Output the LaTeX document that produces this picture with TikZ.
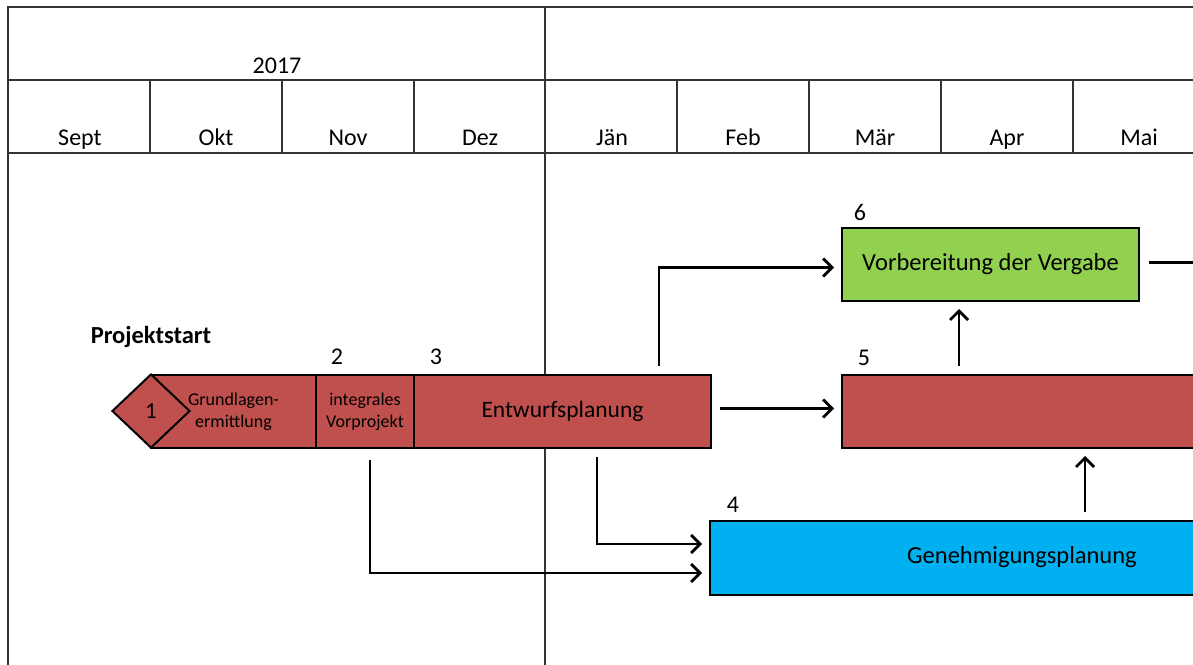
\documentclass[tikz,border=0pt]{standalone}
\usepackage{fontspec}
\setmainfont{Carlito}
\usetikzlibrary{arrows.meta,calc,shapes.geometric}
\definecolor{ored}{HTML}{C0504D}
\definecolor{ogreen}{HTML}{92D050}
\definecolor{oblue}{HTML}{00B0F0}
\definecolor{gridc}{HTML}{333333}
\begin{document}
\begin{tikzpicture}[x=1pt,y=-1pt,
  gridline/.style={draw=gridc,line width=2pt},
  lbl/.style={font=\fontsize{24}{28}\selectfont,inner sep=0pt},
  small/.style={font=\fontsize{18}{22}\selectfont,inner sep=0pt,align=center},
  box/.style={draw=black,line width=2pt,inner sep=0pt,anchor=north west,
    minimum height=73pt,font=\fontsize{24.5}{28}\selectfont},
  arr/.style={draw=black,line width=2.8pt,
    -{Straight Barb[length=9pt,width=18pt,line width=2.8pt]},
    shorten >=7pt,shorten <=8pt}]
\clip (0,0) rectangle (1193,664);
\fill[white] (0,0) rectangle (1193,664);
% grid frame
\draw[gridline] (8,700) -- (8,7) -- (1220,7);
\draw[gridline] (8,80) -- (1220,80);
\draw[gridline] (8,153) -- (1220,153);
\draw[gridline] (545,7) -- (545,700);
\foreach \x in {150,282,414,677,809,941,1073}
  \draw[gridline] (\x,80) -- (\x,153);
\node[lbl,anchor=base] (y2017) at (277,73) {2017};
\foreach \n/\x in {Sept/80,Okt/216,Nov/348,Dez/480,Jän/612,Feb/743,Mär/875,Apr/1007,Mai/1139}
  \node[lbl,anchor=base] (m\n) at (\x,145) {\n};
% boxes
\node[box,fill=ored,minimum width=165pt] (gl) at (150,374) {};
\node[small] (glt) at (gl.center) {Grundlagen-\\ermittlung};
\node[box,fill=ored,minimum width=98pt] (vp) at (315,374) {};
\node[small] (vpt) at (vp.center) {integrales\\Vorprojekt};
\node[box,fill=ored,minimum width=297pt,font=\fontsize{23.5}{26}\selectfont] (e) at (413,374) {Entwurfsplanung};
\node[diamond,draw=black,line width=2pt,fill=ored,minimum width=78pt,
  minimum height=74pt,inner sep=0pt,font=\fontsize{23}{26}\selectfont] (d1) at (151,411) {1};
\node[box,fill=ored,minimum width=400pt] (r5) at (841,374) {};
\node[box,fill=ogreen,minimum width=297pt] (g) at (841,227) {Vorbereitung der Vergabe};
\node[box,fill=oblue,minimum width=500pt,minimum height=74pt] (b) at (709,520) {};
\node[font=\fontsize{24.5}{28}\selectfont,inner sep=0pt] (bt) at (1022,557) {Genehmigungsplanung};
% labels
\node[font=\bfseries\fontsize{24.5}{28}\selectfont,inner sep=0pt] (ps) at (151,337) {Projektstart};
\node[lbl] (n2) at (337,357) {2};
\node[lbl] (n3) at (436,357) {3};
\node[lbl] (n4) at (733,505) {4};
\node[lbl] (n5) at (864,358) {5};
\node[lbl] (n6) at (860,212) {6};
% connectors
\path ([xshift=96.5pt]e.north) coordinate (eN);
\draw[arr] (eN) |- ([yshift=-3pt]g.west);
\draw[arr] ([yshift=3pt]e.east) -- ([yshift=3pt]r5.west);
\path ([xshift=-31.5pt]g.south) coordinate (gS);
\draw[arr] (gS |- r5.north) -- (gS);
\path ([xshift=376pt]b.north west) coordinate (bN);
\draw[arr] (bN) -- (bN |- r5.south);
\path ([xshift=34.5pt]e.south) coordinate (eS);
\draw[arr] (eS) |- ([yshift=14pt]b.west);
\path ([xshift=5pt]vp.south) coordinate (vS);
\draw[arr] ([yshift=-3pt]vS) |- ([yshift=-15pt]b.west);
\draw[draw=black,line width=2.8pt,shorten <=9pt] ([yshift=2pt]g.east) -- ++(70,0) coordinate (gE);
\end{tikzpicture}
\end{document}
